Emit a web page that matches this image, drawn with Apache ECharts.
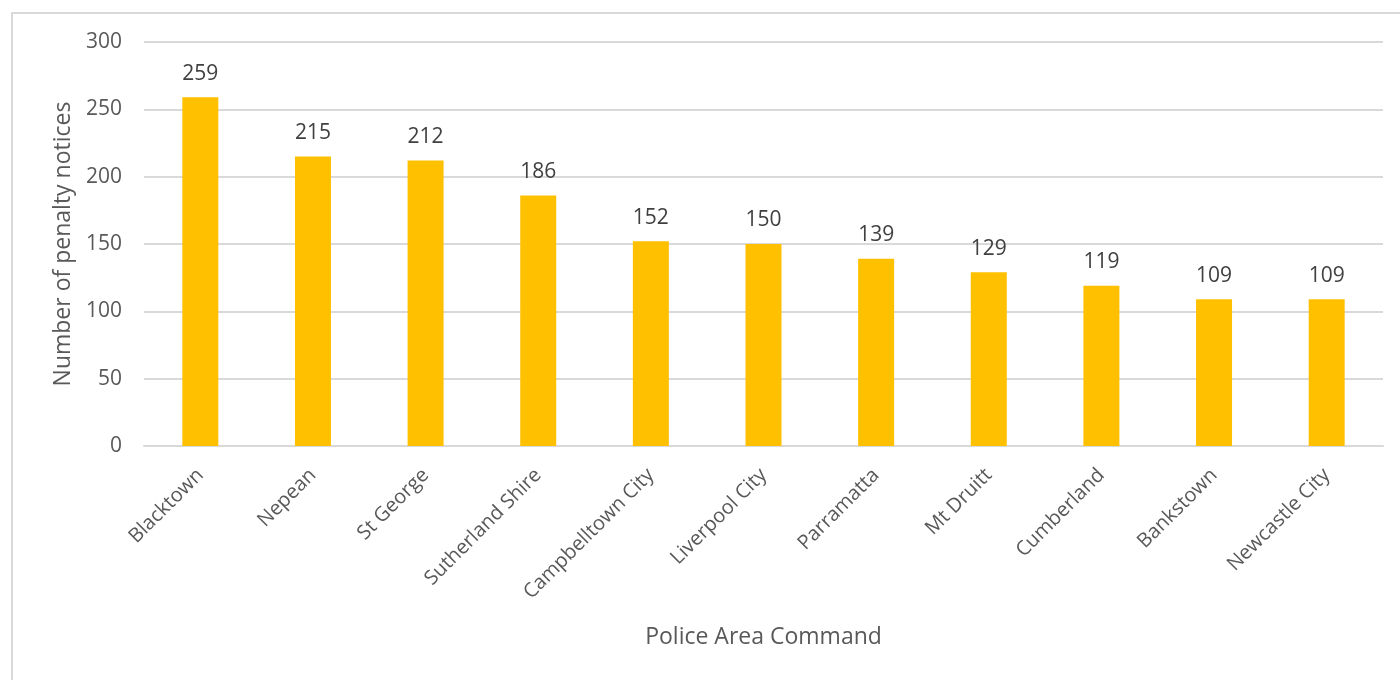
<!DOCTYPE html>
<html>
<head>
<meta charset="utf-8">
<script src="https://cdn.jsdelivr.net/npm/echarts@6/dist/echarts.min.js"></script>
<style>html,body{margin:0;padding:0;background:#fff}#c{width:1400px;height:680px}</style>
</head>
<body>
<div id="c"></div>
<script>
const categories = ['Blacktown','Nepean','St George','Sutherland Shire','Campbelltown City','Liverpool City','Parramatta','Mt Druitt','Cumberland','Bankstown','Newcastle City'];
const values = [259,215,212,186,152,150,139,129,119,109,109];
const yTicks = [0,50,100,150,200,250,300];
const xTitle = 'Police Area Command';
const yTitle = 'Number of penalty notices';

const font = '"Open Sans", "Noto Sans", sans-serif';
const chart = echarts.init(document.getElementById('c'), null, {renderer:'canvas'});
chart.setOption({
  animation:false,
  backgroundColor:'#fff',
  graphic:[{type:'rect', z:-10, shape:{x:12,y:13,width:1400,height:700}, style:{fill:'#fff', stroke:'#d9d9d9', lineWidth:2}}],
  grid:{left:144,right:17,top:42,bottom:234},
  xAxis:{
    type:'category', data:categories,
    axisTick:{show:false},
    axisLine:{lineStyle:{color:'#d9d9d9',width:2}},
    axisLabel:{rotate:45, margin:26, color:'#595959', fontSize:20, fontFamily:font, interval:0},
    name:xTitle, nameLocation:'middle', nameGap:180,
    nameTextStyle:{color:'#595959', fontSize:23, fontFamily:font}
  },
  yAxis:{
    type:'value', min:yTicks[0], max:yTicks[yTicks.length-1], interval:50,
    axisLine:{show:false}, axisTick:{show:false},
    splitLine:{lineStyle:{color:'#d9d9d9',width:2}},
    axisLabel:{margin:22, color:'#595959', fontSize:21, fontFamily:font},
    name:yTitle, nameLocation:'middle', nameGap:69,
    nameTextStyle:{color:'#595959', fontSize:23, fontFamily:font}
  },
  series:[{
    type:'bar', data:values, barWidth:36,
    itemStyle:{color:'#FFC000'},
    label:{show:true, position:'top', distance:13, color:'#404040', fontSize:21, fontFamily:font}
  }]
});
</script>
</body>
</html>
